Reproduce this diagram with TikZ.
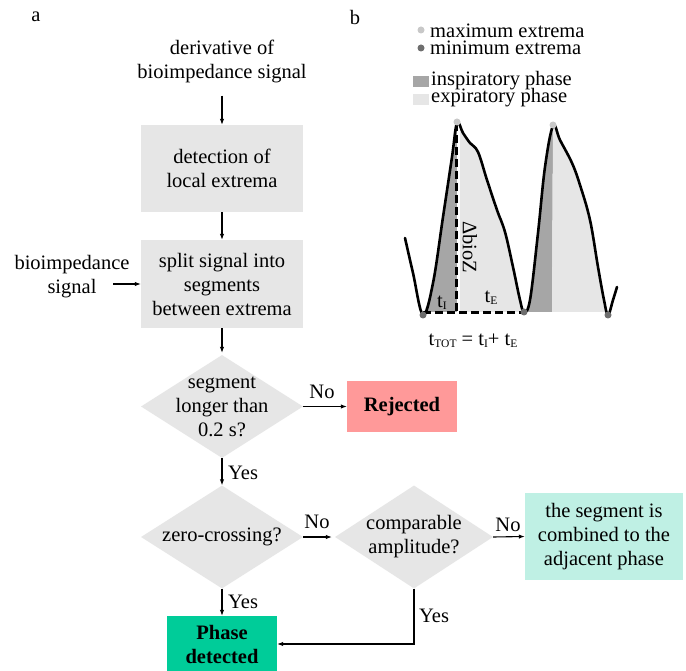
\documentclass[tikz,border=0pt]{standalone}
\usepackage{fontspec}
\setmainfont{LiberationSerif}[Extension=.ttf, UprightFont=*-Regular, BoldFont=*-Bold, ItalicFont=*-Italic, BoldItalicFont=*-BoldItalic]
\usetikzlibrary{shapes.geometric,arrows.meta}
\definecolor{boxgray}{HTML}{E6E6E6}
\definecolor{rejpink}{HTML}{FF9999}
\definecolor{phasegreen}{HTML}{00CC99}
\definecolor{cyanbox}{HTML}{BFF0E4}
\definecolor{insp}{HTML}{A6A6A6}
\definecolor{expi}{HTML}{E6E6E6}
\definecolor{maxdot}{HTML}{C8C8C8}
\definecolor{mindot}{HTML}{6E6E6E}
\newcommand{\bigfont}{\fontsize{20.5}{24}\selectfont}
\newcommand{\mysubt}[1]{t\raisebox{-0.2ex}{\fontsize{11.5}{12}\selectfont #1}}
\begin{document}
\begin{tikzpicture}[x=1pt,y=-1pt, font=\bigfont,
  arr/.style={-{Latex[length=6pt,width=4.5pt]}, line width=1.1pt},
  procbox/.style={fill=boxgray, minimum width=162pt, minimum height=87pt, align=center, inner sep=0pt},
  dia/.style={diamond, fill=boxgray, minimum width=162pt, minimum height=103pt, inner sep=0pt},
  lbl/.style={inner sep=0pt, align=center},
  curve/.style={line width=2.6pt, line join=round, line cap=round},
  dashln/.style={line width=2.8pt, dash pattern=on 8pt off 4pt}]
\clip (0,0) rectangle (686,671);
\fill[white] (0,0) rectangle (686,671);
% panel labels
\node[lbl] (la) at (36,17) {a};
\node[lbl] (lb) at (355,17) {b};
% flowchart
\node[lbl] (deriv) at (222,61) {derivative of\\bioimpedance signal};
\node[procbox] (det) at (222,168.5) {detection of\\local extrema};
\node[procbox, minimum height=88pt] (split) at (222,284) {split signal into\\segments\\between extrema};
\node[lbl] (bio) at (72,277) {bioimpedance\\signal};
\coordinate (bioA) at (113,284);
\node[dia] (d1) at (222,406.5) {};
\node[lbl] (d1t) at (222,407) {segment\\longer than\\0.2 s?};
\node[fill=rejpink, minimum width=110pt, minimum height=51pt, inner sep=0pt, font=\bigfont\bfseries] (rej) at (402,406.5) {Rejected};
\node[dia] (d2) at (222,537) {};
\node[lbl] (d2t) at (222,537) {zero-crossing?};
\node[dia, minimum width=158pt] (d3) at (414,537) {};
\node[lbl] (d3t) at (414,537) {comparable\\amplitude?};
\node[fill=cyanbox, minimum width=158pt, minimum height=87pt, align=center, inner sep=0pt] (comb) at (604,536.5) {the segment is\\combined to the\\adjacent phase};
\node[fill=phasegreen, minimum width=110pt, minimum height=56pt, align=center, inner sep=0pt, font=\bigfont\bfseries] (phase) at (222,644) {Phase\\detected};
% connectors
\draw[arr] ([yshift=-13pt]deriv.south) -- (det.north);
\draw[arr] (det.south) -- (split.north);
\draw[arr] (bioA) -- (split.west);
\draw[arr] (split.south) -- ([yshift=2pt]d1.north);
\draw[arr] (d1.east) -- (rej.west);
\node[lbl] (no1) at (322,392) {No};
\draw[arr] (d1.south) -- (d2.north);
\node[lbl, anchor=west] (yes1) at (228,473) {Yes};
\draw[arr] (d2.east) -- ([xshift=-3pt]d3.west);
\node[lbl] (no2) at (317,522) {No};
\draw[arr] (d3.east) -- (comb.west);
\node[lbl] (no3) at (508,525) {No};
\draw[arr] (d2.south) -- (phase.north);
\node[lbl, anchor=west] (yes2) at (228,602) {Yes};
\draw[arr] (d3.south) |- (phase.east);
\node[lbl, anchor=west] (yes3) at (419,616) {Yes};
% legend
\fill[maxdot] (421,30) circle (3.5);
\node[lbl, anchor=west] (lmax) at (430,31) {maximum extrema};
\fill[mindot] (421,48) circle (3.5);
\node[lbl, anchor=west] (lmin) at (430,48) {minimum extrema};
\fill[insp] (413,76) rectangle (429,87);
\node[lbl, anchor=west] (lins) at (431,81) {inspiratory phase};
\fill[expi] (413,94) rectangle (429,105);
\node[lbl, anchor=west] (lexp) at (431,98) {expiratory phase};
% shading
\begin{scope}
\clip (400,100) rectangle (625,312);
\fill[insp] plot[smooth,tension=0.6] coordinates {(423,315) (433,283) (443,217) (452,157) (457,123)} -- (457,313) -- cycle;
\fill[expi] plot[smooth,tension=0.6] coordinates {(457,123) (463,133) (470,143) (478,152) (487,180) (497,210) (505,232) (513,267) (520,300) (524,312)} -- (457,313) -- cycle;
\fill[insp] plot[smooth,tension=0.6] coordinates {(524,312) (530,300) (538,233) (545,167) (553,126)} -- (552,313) -- cycle;
\fill[expi] plot[smooth,tension=0.6] coordinates {(553,126) (560,140) (572,163) (580,185) (590,220) (598,267) (604,300) (608,315)} -- (552,313) -- cycle;
\end{scope}
\draw[white, line width=3pt] (458,126) -- (458,312);
\draw[dashln] (456.5,123) -- (456.5,312);
\draw[dashln] (423,312.5) -- (524,312.5);
\draw[curve] plot[smooth,tension=0.6] coordinates {(405,238) (413,273) (423,315) (433,283) (443,217) (452,157) (457,123) (463,133) (470,143) (478,152) (487,180) (497,210) (505,232) (513,267) (520,300) (524,312) (530,300) (538,233) (545,167) (553,126) (560,140) (572,163) (580,185) (590,220) (598,267) (604,300) (608,315) (613,300) (617,287)};
\fill[maxdot] (457,122) circle (3.5);
\fill[maxdot] (553,125) circle (3.5);
\fill[mindot] (423,315) circle (3.5);
\fill[mindot] (524,312) circle (3.5);
\fill[mindot] (608,315) circle (3.5);
\node[lbl, rotate=-90] (dbz) at (470,247) {ΔbioZ};
\node[lbl] (tI) at (442,303) {\mysubt{I}};
\node[lbl] (tE) at (491,298) {\mysubt{E}};
\node[lbl] (ttot) at (473,341) {\mysubt{TOT} = \mysubt{I}+ \mysubt{E}};
\end{tikzpicture}
\end{document}
